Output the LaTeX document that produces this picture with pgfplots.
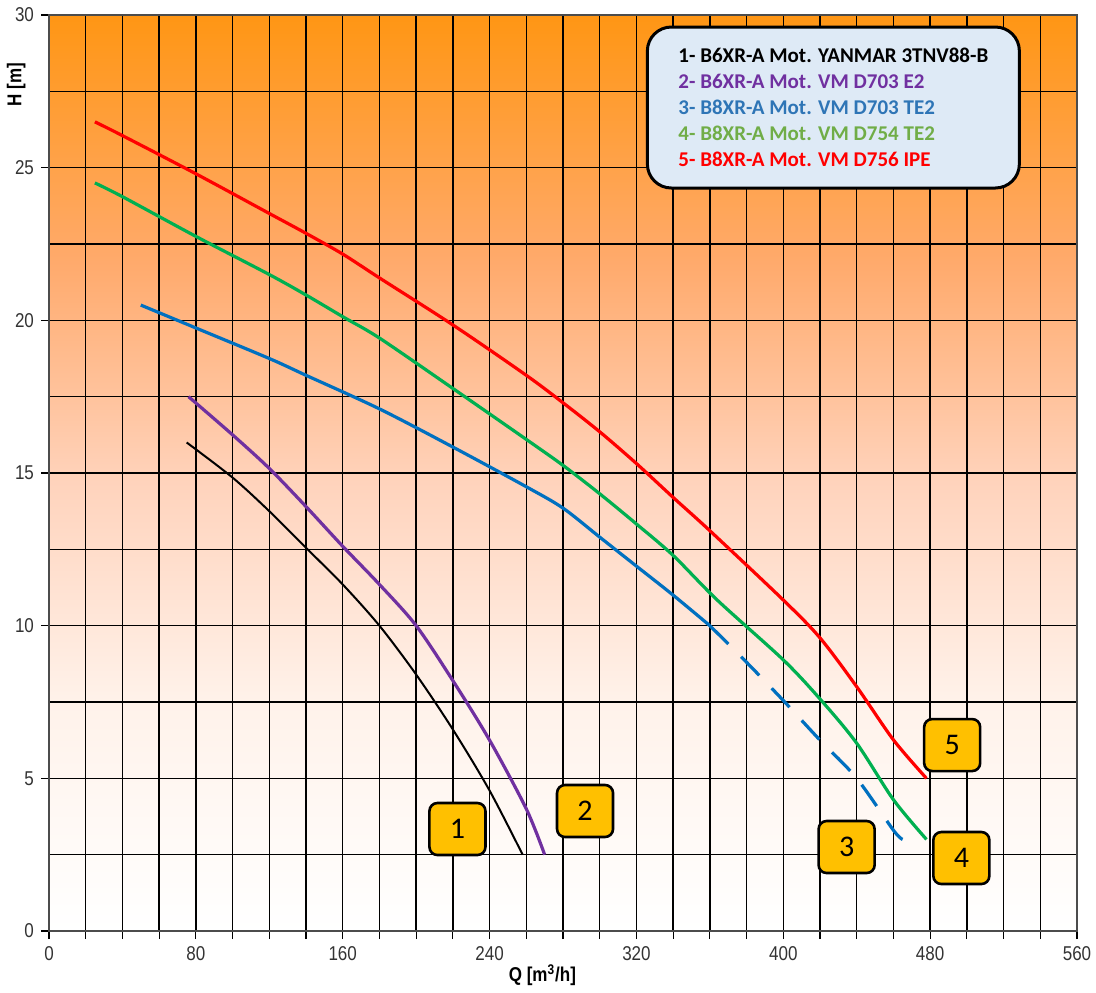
\documentclass[border=0pt]{standalone}
\usepackage{fontspec}
\setmainfont{Liberation Sans}
\newfontfamily\narrowfont[FakeStretch=0.85]{Liberation Sans}
\newfontfamily\calfont{Carlito}
\usepackage{pgfplots}
\pgfplotsset{compat=1.18}
\definecolor{ctop}{RGB}{255,150,20}
\definecolor{cA}{RGB}{255,170,108}
\definecolor{cB}{RGB}{255,211,188}
\definecolor{cC}{RGB}{255,242,234}
\definecolor{lgfill}{RGB}{222,234,246}
\definecolor{boxy}{RGB}{255,192,0}
\definecolor{cred}{RGB}{255,0,0}
\definecolor{cgreen}{RGB}{0,176,80}
\definecolor{cblue}{RGB}{0,112,192}
\definecolor{cpurple}{RGB}{112,48,160}
\definecolor{tblue}{RGB}{46,117,182}
\definecolor{tgreen}{RGB}{112,173,71}
\pgfdeclareverticalshading{bgshade}{100bp}{color(0bp)=(white); color(25bp)=(white); color(37.5bp)=(cC); color(49.5bp)=(cB); color(61.5bp)=(cA); color(75bp)=(ctop); color(100bp)=(ctop)}
\begin{document}
\begin{tikzpicture}
\path[use as bounding box] (0,0) rectangle (548pt,496pt);
\begin{axis}[
  at={(24.5pt,30.5pt)}, anchor=south west,
  scale only axis, width=514pt, height=458pt,
  xmin=0, xmax=560, ymin=0, ymax=30,
  xtick={0,80,...,560}, minor x tick num=3,
  ytick={0,5,...,30}, minor y tick num=1,
  grid=both,
  major grid style={black, line width=0.65pt},
  minor grid style={black, line width=0.65pt},
  axis background/.style={shade, shading=bgshade},
  axis line style={black!70, line width=0.8pt},
  tick align=outside, tick pos=left,
  major tick length=4pt, minor tick length=4pt,
  minor y tick style={draw=none},
  tick style={black, line width=0.6pt},
  ticklabel style={font=\narrowfont\fontsize{10}{12}\selectfont, text=black!80},
  /pgf/number format/assume math mode=true,
  xlabel={\bfseries Q [m\textsuperscript{3}/h]},
  xlabel style={font=\narrowfont\fontsize{10}{12}\selectfont, at={(axis description cs:0.48,-0.048)}, anchor=center},
  ylabel={\bfseries H [m]},
  ylabel style={font=\narrowfont\fontsize{10}{12}\selectfont, at={(axis description cs:-0.032,0.924)}, anchor=center},
  clip=false,
]
% 1 black
\addplot[black, line width=1pt, smooth] coordinates {
(75,16.0) (100,14.85) (120,13.75) (140,12.55) (160,11.35) (180,10.0) (200,8.4) (220,6.6) (240,4.6) (258,2.5)};
% 2 purple
\addplot[cpurple, line width=1.6pt, smooth] coordinates {
(76,17.5) (100,16.25) (120,15.15) (140,13.9) (160,12.6) (180,11.35) (200,10.0) (220,8.2) (240,6.25) (260,4.0) (270,2.5)};
% 3 blue solid
\addplot[cblue, line width=1.6pt, smooth] coordinates {
(50,20.5) (80,19.75) (120,18.75) (140,18.2) (180,17.1) (220,15.85) (260,14.55) (280,13.85) (300,12.9) (320,11.95) (340,11.0) (360,10.0)};
% 3 blue dashed
\addplot[cblue, line width=1.6pt, smooth, dash pattern=on 13pt off 9pt] coordinates {
(360,10.0) (380,8.8) (400,7.55) (420,6.25) (440,5.0) (460,3.3) (465,3.0)};
% 4 green
\addplot[cgreen, line width=1.6pt, smooth] coordinates {
(25,24.5) (40,24.05) (80,22.75) (120,21.5) (140,20.83) (160,20.12) (180,19.42) (220,17.77) (260,16.1) (280,15.25) (300,14.32) (320,13.33) (340,12.3) (364,10.84) (400,8.88) (420,7.6) (440,6.15) (460,4.3) (478,3.0)};
% 5 red
\addplot[cred, line width=1.6pt, smooth] coordinates {
(25,26.5) (40,26.05) (80,24.8) (120,23.5) (140,22.85) (160,22.17) (180,21.39) (220,19.85) (260,18.2) (280,17.3) (300,16.35) (320,15.31) (340,14.2) (360,13.11) (400,10.84) (420,9.6) (440,8.0) (460,6.26) (478,5.0)};
% legend box
\node[draw=black, line width=1.5pt, fill=lgfill, rounded corners=12pt,
  minimum width=186pt, minimum height=80.5pt, align=left,
  font=\calfont\bfseries\fontsize{10.5}{13}\selectfont]
  at (rel axis cs:0.763,0.899) {%
  \textcolor{black}{1- B6XR-A Mot. YANMAR 3TNV88-B}\\
  \textcolor{cpurple}{2- B6XR-A Mot. VM D703 E2}\\
  \textcolor{tblue}{3- B8XR-A Mot. VM D703 TE2}\\
  \textcolor{tgreen}{4- B8XR-A Mot. VM D754 TE2}\\
  \textcolor{cred}{5- B8XR-A Mot. VM D756 IPE}};
% number boxes
\tikzset{nbox/.style={draw=black, line width=1.3pt, fill=boxy, rounded corners=4pt,
  minimum width=28pt, minimum height=26pt, inner sep=0pt,
  font=\calfont\fontsize{15}{15}\selectfont}}
\node[nbox] at (axis cs:222.5,3.34) {1};
\node[nbox] at (axis cs:292,3.93) {2};
\node[nbox] at (axis cs:434.5,2.75) {3};
\node[nbox] at (axis cs:497,2.39) {4};
\node[nbox] at (axis cs:492,6.09) {5};
\end{axis}
\end{tikzpicture}
\end{document}
